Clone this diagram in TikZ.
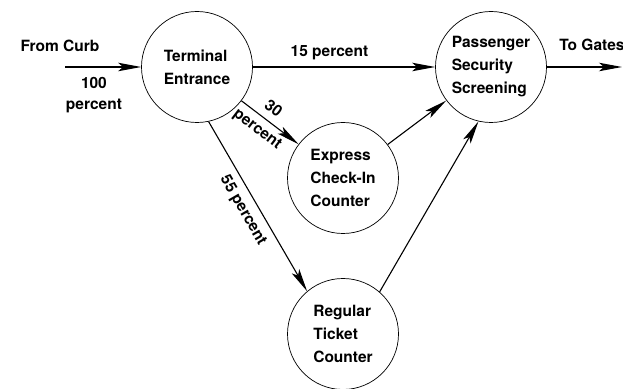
\documentclass[tikz,border=0pt]{standalone}
\usepackage{fontspec}
\setmainfont{TeX Gyre Heros}
\usetikzlibrary{arrows.meta, positioning}

\begin{document}
\begin{tikzpicture}[x=1pt, y=1pt,
  area/.style={draw, circle, minimum size=111pt, inner sep=0pt,
    align=left, line width=0.7pt, font=\fontsize{15.5}{23}\selectfont\bfseries},
  arr/.style={-{Stealth[length=23pt, width=8.5pt, inset=5pt]}, line width=1.1pt},
  lbl/.style={font=\fontsize{15.5}{21}\selectfont\bfseries}
]
  \useasboundingbox (0,0) rectangle (623,388);

  % Stations
  \node[area] (term) at (197, 321) {Terminal\\Entrance};
  \node[area] (pss) at (491, 321) {Passenger\\Security\\Screening};
  \node[area] (exp) at (343, 210) {Express\\Check-In\\Counter};
  \node[area] (reg) at (343, 54) {Regular\\Ticket\\Counter};

  % Free ends
  \coordinate (curb) at (65, 321);
  \coordinate (gates) at (622, 321);
  \node[lbl, anchor=base west] (curblbl) at (17, 336) {From Curb};

  % Flows
  \draw[arr] (curb) -- node[lbl, below=6pt, pos=0.38, align=center] {100\\percent} (term);
  \draw[arr] (term) -- node[lbl, above=3pt, pos=0.42] {15 percent} (pss);
  \draw[arr] (pss) -- node[lbl, above=12pt, pos=0.6] {To Gates} (gates);
  \draw[arr] (term) -- node[lbl, sloped, above=4pt, pos=0.42] {30}
    node[lbl, sloped, below=3pt, pos=0.42] {percent} (exp);
  \draw[arr] (term.-78) -- node[lbl, sloped, below=4pt, pos=0.48] {55 percent} (reg.130);
  \draw[arr] (exp) -- (pss);
  \draw[arr] (reg.49) -- (pss.257);
\end{tikzpicture}
\end{document}
